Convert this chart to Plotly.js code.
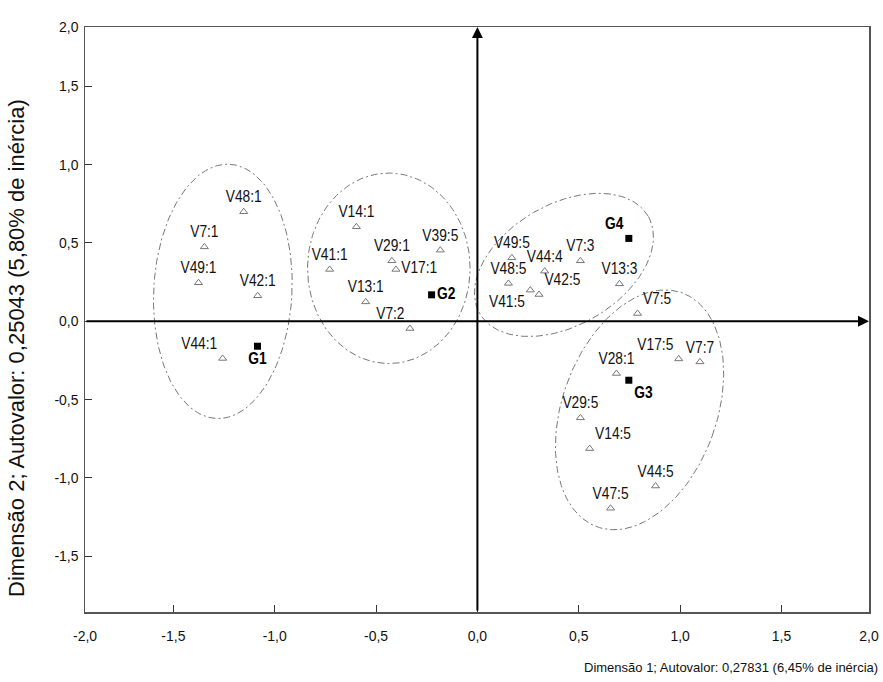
<!DOCTYPE html>
<html>
<head>
<meta charset="utf-8">
<script src="https://cdn.plot.ly/plotly-3.0.1.min.js"></script>
<style>html,body{margin:0;padding:0;background:#fff;}#chart{width:883px;height:682px;}</style>
</head>
<body>
<div id="chart"></div>
<script>
// ---- data ----
const pointLabels = ['V48:1','V7:1','V49:1','V42:1','V44:1',
  'V14:1','V41:1','V29:1','V17:1','V39:5','V13:1','V7:2',
  'V49:5','V44:4','V48:5','V41:5','V42:5','V7:3','V13:3','V7:5',
  'V17:5','V7:7','V28:1','V29:5','V14:5','V44:5','V47:5'];
const dim1 = [-1.153,-1.347,-1.376,-1.084,-1.257,
  -0.597,-0.729,-0.422,-0.402,-0.183,-0.551,-0.333,
  0.170,0.332,0.153,0.261,0.304,0.508,0.701,0.790,
  0.993,1.098,0.686,0.508,0.554,0.879,0.657];
const dim2 = [0.698,0.474,0.245,0.162,-0.238,
  0.602,0.330,0.385,0.330,0.453,0.123,-0.047,
  0.404,0.319,0.241,0.198,0.170,0.385,0.238,0.049,
  -0.241,-0.260,-0.334,-0.617,-0.813,-1.052,-1.194];

const groupLabels = ['G1','G2','G3','G4'];
const groupDim1 = [-1.085,-0.226,0.747,0.747];
const groupDim2 = [-0.160,0.168,-0.377,0.528];

// cluster ellipses: centre (dim1, dim2), semi-axes (in dim1 units), rotation (deg)
const ellipseCx = [-1.256,-0.437,0.427,0.800];
const ellipseCy = [0.190,0.337,0.359,-0.566];
const ellipseRx = [0.341,0.401,0.480,0.381];
const ellipseRy = [0.628,0.470,0.299,0.614];
const ellipseAngle = [-3,0,30,-20];

const xTickVals = [-1.936,-1.5,-1.0,-0.5,0,0.5,1.0,1.5,1.932];
const xTickText = ['-2,0','-1,5','-1,0','-0,5','0,0','0,5','1,0','1,5','2,0'];
const yTickVals = [-1.5,-1.0,-0.5,0,0.5,1.0,1.5,1.877];
const yTickText = ['-1,5','-1,0','-0,5','0,0','0,5','1,0','1,5','2,0'];

const xTitle = 'Dimensão 1; Autovalor: 0,27831 (6,45% de inércia)';
const yTitle = 'Dimensão 2; Autovalor: 0,25043 (5,80% de inércia)';

// ---- styling / layout ----
const W = 883, H = 682;
const M = {l:85, r:14, t:27, b:70};
const xRange = [xTickVals[0], xTickVals[xTickVals.length-1]];
const yRange = [-1.856, yTickVals[yTickVals.length-1]];
const pxPerX = (W - M.l - M.r) / (xRange[1]-xRange[0]);
const pxPerY = (H - M.t - M.b) / (yRange[1]-yRange[0]);
const FONT = 'Liberation Sans, Arial, sans-serif';

const pointPos = ['top center','top center','top center','top center','top left',
  'top center','top center','top center','middle right','top center','top center','top left',
  'top center','top center','top center','bottom left','top right','top center','top center','top right',
  'top left','top center','top center','top center','top right','top center','top center'];
const groupPos = ['bottom center','middle right','bottom right','top left'];

const traces = [];
for (let i = 0; i < ellipseCx.length; i++) {
  const ex = [], ey = [];
  const a = ellipseAngle[i]*Math.PI/180;
  for (let k = 0; k <= 180; k++) {
    const t = 2*Math.PI*k/180;
    const u = ellipseRx[i]*Math.cos(t), v = ellipseRy[i]*Math.sin(t);
    const ru = u*Math.cos(a) - v*Math.sin(a);
    const rv = u*Math.sin(a) + v*Math.cos(a);
    ex.push(ellipseCx[i] + ru);
    ey.push(ellipseCy[i] + rv*pxPerX/pxPerY);
  }
  traces.push({x:ex, y:ey, mode:'lines', hoverinfo:'skip',
    line:{color:'#777', width:1, dash:'7px,3px,2px,3px'}});
}
traces.push({x:dim1, y:dim2, text:pointLabels, mode:'markers+text',
  textposition:pointPos, textfont:{family:FONT, size:16, color:'#111'},
  marker:{symbol:'triangle-up-open', size:7, color:'#777', line:{width:1}}});
traces.push({x:groupDim1, y:groupDim2, text:groupLabels.map(s=>'<b>'+s+'</b>'), mode:'markers+text',
  textposition:groupPos, textfont:{family:FONT, size:16, color:'#000'},
  marker:{symbol:'square', size:7, color:'#000'}});

const axisCommon = {showgrid:false, zeroline:false, showline:true, linecolor:'#555', linewidth:1.5,
  mirror:true, ticks:'inside', ticklen:7, tickcolor:'#333', tickwidth:1,
  tickfont:{family:FONT, size:15, color:'#111'}, tickmode:'array'};

const layout = {
  width:W, height:H, margin:M, paper_bgcolor:'#fff', plot_bgcolor:'#fff', showlegend:false,
  xaxis:Object.assign({}, axisCommon, {range:xRange, tickvals:xTickVals, ticktext:xTickText, ticklabelstandoff:9}),
  yaxis:Object.assign({}, axisCommon, {range:yRange, tickvals:yTickVals, ticktext:yTickText, ticklabelstandoff:2}),
  annotations:[
    {x:xRange[1], y:0, ax:xRange[0], ay:0, xref:'x', yref:'y', axref:'x', ayref:'y', text:'',
     showarrow:true, arrowhead:2, arrowsize:1.1, arrowwidth:2, arrowcolor:'#000', standoff:0},
    {x:0, y:yRange[1], ax:0, ay:yRange[0], xref:'x', yref:'y', axref:'x', ayref:'y', text:'',
     showarrow:true, arrowhead:2, arrowsize:1.1, arrowwidth:2, arrowcolor:'#000', standoff:0},
    {text:xTitle, xref:'paper', yref:'paper', x:(880-M.l)/(W-M.l-M.r), y:-(667-(H-M.b))/(H-M.t-M.b),
     xanchor:'right', yanchor:'middle', showarrow:false, font:{family:FONT, size:13, color:'#111'}},
    {text:yTitle, xref:'paper', yref:'paper', x:(16-M.l)/(W-M.l-M.r), y:((H-M.b)-348)/(H-M.t-M.b),
     xanchor:'center', yanchor:'middle', textangle:-90, showarrow:false, font:{family:FONT, size:22, color:'#111'}}
  ]
};

// horizontally condense the in-plot and tick texts (the reference uses a narrow face)
function condense(sel, factor) {
  document.querySelectorAll(sel).forEach(function (t) {
    const len = t.getComputedTextLength();
    if (len > 0) {
      t.setAttribute('textLength', (len * factor).toFixed(2));
      t.setAttribute('lengthAdjust', 'spacingAndGlyphs');
    }
  });
}

Plotly.newPlot('chart', traces, layout, {displayModeBar:false, staticPlot:true}).then(function (gd) {
  condense('#chart .textpoint text', 0.86);
  condense('#chart .xtick text', 0.93);
  condense('#chart .ytick text', 0.93);
});
</script>
</body>
</html>
